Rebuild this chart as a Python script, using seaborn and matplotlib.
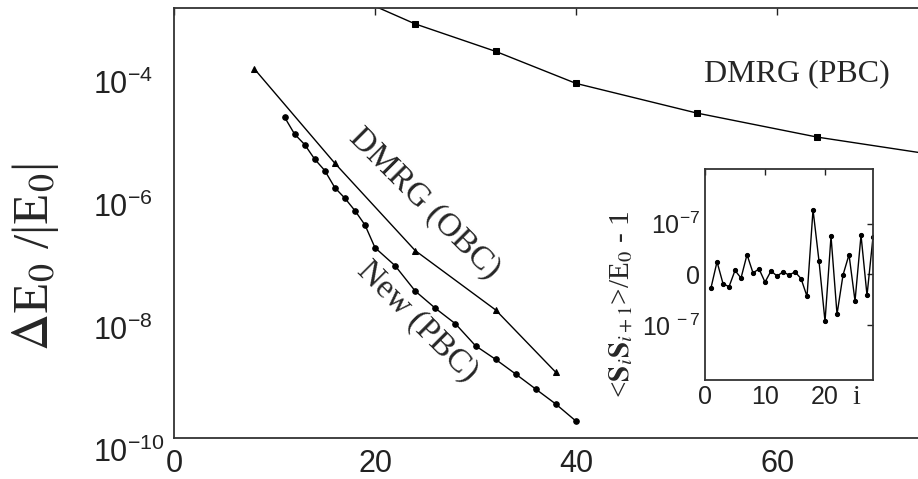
import numpy as np
import pandas as pd
import matplotlib
matplotlib.use('Agg')
import matplotlib.pyplot as plt
import matplotlib.ticker as mticker
import seaborn as sns

# Main panel: relative ground-state energy error vs system size
L_pbc = [16, 24, 32, 40, 52, 64, 80]
err_pbc = [2.1e-3, 5.57e-4, 1.99e-4, 5.98e-5, 1.97e-5, 7.98e-6, 3.2e-6]

L_obc = [8, 16, 24, 32, 38]
err_obc = [1.03e-4, 3.0e-6, 1.13e-7, 1.22e-8, 1.17e-9]

L_new = [11, 12, 13, 14, 15, 16, 17, 18, 19, 20,
         22, 24, 26, 28, 30, 32, 34, 36, 38, 40]
err_new = [1.69e-5, 8.93e-6, 6.04e-6, 3.49e-6, 2.28e-6, 1.20e-6, 8.07e-7, 5.07e-7,
           2.96e-7, 1.26e-7, 6.41e-8, 2.48e-8, 1.30e-8, 7.26e-9, 3.18e-9, 1.91e-9,
           1.10e-9, 6.25e-10, 3.56e-10, 1.88e-10]

# Inset: bond energy deviation (units of 1e-7)
site_i = list(range(1, 29))
bond_dev = [-0.26, 0.25, -0.18, -0.24, 0.08, -0.07, 0.39, 0.03, 0.11, -0.15,
            0.07, -0.03, 0.05, -0.01, 0.05, -0.08, -0.43, 1.27, 0.26, -0.92,
            0.75, -0.78, -0.01, 0.39, -0.52, 0.77, -0.41, 0.74]

sns.set_style('white')
plt.rcParams['font.family'] = ['Liberation Sans', 'DejaVu Sans']
plt.rcParams['mathtext.fontset'] = 'stix'
serif = ['Liberation Serif', 'DejaVu Serif']

fig = plt.figure(figsize=(9.18, 4.79), dpi=100)
ax = fig.add_axes([0.1895, 0.0856, 0.876, 0.897])

df_pbc = pd.DataFrame({'L': L_pbc, 'err': err_pbc})
df_obc = pd.DataFrame({'L': L_obc, 'err': err_obc})
df_new = pd.DataFrame({'L': L_new, 'err': err_new})

line_kw = dict(color='black', linewidth=1.0, markeredgecolor='black', ax=ax)
sns.lineplot(data=df_pbc, x='L', y='err', marker='s', markersize=4, **line_kw)
sns.lineplot(data=df_obc, x='L', y='err', marker='^', markersize=5, **line_kw)
sns.lineplot(data=df_new, x='L', y='err', marker='o', markersize=4, **line_kw)

ax.set_yscale('log')
ax.set_xlim(0, 80)
ax.set_ylim(1e-10, 1e-3)
ax.set_xticks([0, 20, 40, 60])
ax.set_yticks([1e-10, 1e-8, 1e-6, 1e-4])
ax.yaxis.set_minor_locator(mticker.NullLocator())
ax.tick_params(direction='in', length=5, width=1, top=True, labelsize=22, pad=8, colors='#222222')
ax.tick_params(axis='y', pad=58)
for lab in ax.get_yticklabels():
    lab.set_horizontalalignment('left')
    lab.set_verticalalignment('top')
for s in ax.spines.values():
    s.set_color('#333333')
    s.set_linewidth(1.3)
ax.set_xlabel('')
ax.set_ylabel(r'$\Delta$E$_0$ /|E$_0$|', family=serif, fontsize=37)
ax.yaxis.set_label_coords(-0.14, 0.42)

ax.text(62, 8.5e-5, 'DMRG (PBC)', family=serif, fontsize=23, ha='center', va='center')
ax.text(24.9, 6.6e-7, 'DMRG (OBC)', family=serif, fontsize=24, ha='center', va='center',
        rotation=-45, rotation_mode='anchor')
ax.text(24.2, 7.8e-9, 'New (PBC)', family=serif, fontsize=24, ha='center', va='center',
        rotation=-45, rotation_mode='anchor')

# Inset
ax_in = fig.add_axes([0.768, 0.2067, 0.183, 0.4405])
df_in = pd.DataFrame({'i': site_i, 'dev': bond_dev})
sns.lineplot(data=df_in, x='i', y='dev', marker='o', markersize=3, color='black',
             linewidth=1.0, markeredgecolor='black', ax=ax_in)
ax_in.set_xlim(0, 28)
ax_in.set_ylim(-2.07, 2.07)
ax_in.set_xticks([0, 10, 20])
ax_in.set_yticks([-1, 0, 1])
ax_in.set_yticklabels([r'$\mathdefault{10^{\ -7}}$', '0', r'$\mathdefault{10^{-7}}$'])
ax_in.tick_params(direction='in', length=4, width=1, top=True, right=True,
                  labelsize=18, colors='#222222')
for s in ax_in.spines.values():
    s.set_color('#333333')
    s.set_linewidth(1.3)
ax_in.set_xlabel('')
ax_in.set_ylabel(r'<$\mathbf{S}_i\mathbf{S}_{i+1}$>/E$_0$ - 1', family=serif, fontsize=21)
ax_in.yaxis.set_label_coords(-0.42, 0.36)
ax_in.text(0.9, -0.025, 'i', transform=ax_in.transAxes, family=serif, fontsize=20,
           ha='center', va='top')

fig.savefig('out.png', dpi=100)
